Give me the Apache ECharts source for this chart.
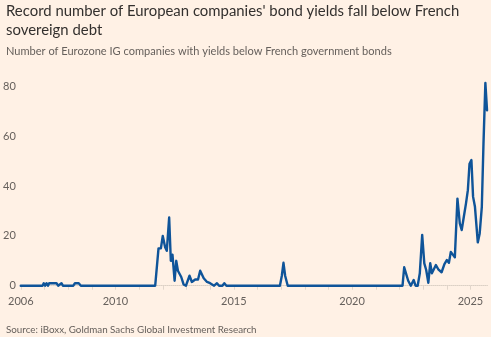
<!DOCTYPE html>
<html>
<head>
<meta charset="utf-8">
<script src="https://cdn.jsdelivr.net/npm/echarts@6/dist/echarts.min.js"></script>
<style>
html,body{margin:0;padding:0;background:#FFF1E5;}
#c{width:491px;height:337px;}
</style>
</head>
<body>
<div id="c"></div>
<script>
// Decimal-year positions and counts
var years = [2006.0,2006.92,2006.97,2007.03,2007.09,2007.15,2007.2,2007.25,2007.3,2007.51,2007.58,2007.66,2007.72,2007.78,
  2008.22,2008.29,2008.45,2008.54,
  2011.68,2011.82,2011.92,2012.0,2012.10,2012.17,2012.27,2012.34,2012.41,2012.5,2012.57,2012.64,2012.71,2012.78,2012.88,2012.98,
  2013.05,2013.13,2013.23,2013.37,2013.49,2013.58,2013.73,2013.87,2014.0,2014.08,2014.17,2014.29,2014.38,2014.52,2014.6,2014.69,
  2016.95,2017.03,2017.1,2017.17,2017.28,
  2022.13,2022.2,2022.28,2022.37,2022.48,2022.6,2022.68,2022.77,2022.86,2022.96,2023.05,2023.13,2023.22,2023.3,2023.37,2023.45,
  2023.54,2023.64,2023.78,2023.9,2024.0,2024.09,2024.17,2024.25,2024.34,2024.45,2024.55,2024.63,2024.72,2024.81,2024.89,2024.96,
  2025.04,2025.11,2025.19,2025.31,2025.39,2025.48,2025.55,2025.63,2025.7];
var counts = [0,0,1,0,1,0,1,0.3,1,1,0,0,1,0,
  0,1,1,0,
  0,15,15,20,15.5,14,27.4,10,12.5,2,10,6,6,3.5,0.5,0,
  0,4,1.5,2.5,2.5,6,3,1.5,1,1,0,1,0,0,1,0,
  0,4,9.2,4,0,
  0,7.4,8,2,0,2.3,0,0,5,20.4,9,6.3,1.2,9,5,4.3,
  8.3,6.6,5.4,8.7,10.3,9.2,13.6,13,11.4,35,25,22.4,27.7,33,38.4,49,
  50.5,35.8,31.7,17.4,21,31.7,57,81.5,70.5];
var xTickLabels = [2006, 2010, 2015, 2020, 2025];
var yTickLabels = [0, 20, 40, 60, 80];

var FONT = 'Lato';
var seriesData = years.map(function (y, i) { return [y, counts[i]]; });

var chart = echarts.init(document.getElementById('c'), null, {renderer: 'canvas'});
chart.setOption({
  backgroundColor: '#FFF1E5',
  animation: false,
  title: [
    {text: "Record number of European companies' bond yields fall below French\nsovereign debt",
     left: 1, top: -3,
     textStyle: {fontFamily: FONT, fontSize: 14.9, fontWeight: 'normal', color: '#33302E', lineHeight: 18.5}},
    {text: 'Number of Eurozone IG companies with yields below French government bonds',
     left: 1, top: 41,
     textStyle: {fontFamily: FONT, fontSize: 11.05, fontWeight: 'normal', color: '#66605C'}},
    {text: 'Source: iBoxx, Goldman Sachs Global Investment Research',
     left: 1, top: 320,
     textStyle: {fontFamily: FONT, fontSize: 9.8, fontWeight: 'normal', color: '#66605C'}}
  ],
  grid: {left: 20.5, right: 3.5, top: 61.8, bottom: 51.3, containLabel: false},
  xAxis: {
    type: 'value', min: 2006, max: 2025.72, interval: 1,
    axisLine: {show: true, onZero: true, lineStyle: {color: '#dcd0c5', type: 'dotted', width: 1}},
    axisTick: {show: true, length: 4, lineStyle: {color: '#e2d6cb'}},
    splitLine: {show: false},
    axisLabel: {
      margin: 10, color: '#66605C', fontFamily: FONT, fontSize: 11, showMaxLabel: false,
      formatter: function (v) { return xTickLabels.indexOf(Math.round(v)) >= 0 && Math.abs(v - Math.round(v)) < 1e-6 ? String(Math.round(v)) : ''; }
    }
  },
  yAxis: {
    type: 'value', min: 0, max: 90, interval: 10,
    axisLine: {show: false}, axisTick: {show: false}, splitLine: {show: false},
    axisLabel: {
      margin: 5, color: '#66605C', fontFamily: FONT, fontSize: 11, showMaxLabel: false,
      formatter: function (v) { return yTickLabels.indexOf(v) >= 0 ? String(v) : ''; }
    }
  },
  series: [{
    type: 'line', data: seriesData, showSymbol: false, symbol: 'none',
    lineStyle: {color: '#0F5499', width: 2.4, cap: 'round', join: 'round'},
    clip: false
  }]
});
</script>
</body>
</html>
